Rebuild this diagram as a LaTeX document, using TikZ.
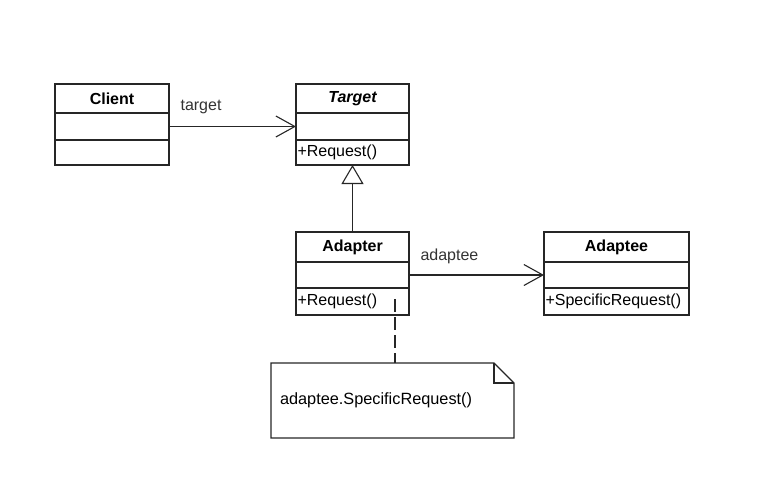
\documentclass[tikz,border=0pt]{standalone}
\usepackage{fontspec}
\setmainfont{Liberation Sans}
\usetikzlibrary{arrows.meta,positioning,calc}

\tikzset{
  classhead/.style={draw=black!85,line width=1.2pt,outer sep=0pt,inner sep=1pt,
    minimum height=29pt,font=\fontsize{16}{18}\selectfont\bfseries},
  compart/.style={draw=black!85,line width=1.2pt,outer sep=0pt,inner xsep=1.5pt,
    inner ysep=0pt,align=left,font=\fontsize{16}{18}\selectfont},
  assoc/.style={draw=black!85,line width=1.1pt,-{Straight Barb[length=19pt,width=21pt,line width=1.1pt]}},
  gen/.style={draw=black!85,line width=1.1pt,-{Triangle[open,length=19pt,width=22pt,line width=1.1pt,fill=white]}},
  rolelabel/.style={font=\fontsize{16}{18}\selectfont,text=black!80,inner sep=0pt},
  notebox/.style={inner xsep=9pt,text width=225pt,align=left,minimum height=75pt,
    font=\fontsize{16.3}{18}\selectfont,outer sep=0pt}
}

\begin{document}
\begin{tikzpicture}[x=1pt,y=-1pt]
  \useasboundingbox (0,0) rectangle (758,496);

  % Client
  \node[classhead,minimum width=114pt] (client) at (112,98.5) {Client};
  \node[compart,text width=111pt,minimum height=27pt,below=0pt of client] (client-attr) {};
  \node[compart,text width=111pt,minimum height=25pt,below=0pt of client-attr] (client-ops) {};

  % Target
  \node[classhead,minimum width=113pt,font=\fontsize{16}{18}\selectfont\bfseries\itshape]
    (target) at (352.5,98.5) {Target};
  \node[compart,text width=110pt,minimum height=27pt,below=0pt of target] (target-attr) {};
  \node[compart,text width=110pt,minimum height=25pt,below=0pt of target-attr] (target-ops) {+Request()};

  % Adapter
  \node[classhead,minimum width=113pt,minimum height=30pt] (adapter) at (352.5,247) {Adapter};
  \node[compart,text width=110pt,minimum height=26pt,below=0pt of adapter] (adapter-attr) {};
  \node[compart,text width=110pt,minimum height=27pt,below=0pt of adapter-attr] (adapter-ops) {+Request()};

  % Adaptee
  \node[classhead,minimum width=145pt,minimum height=30pt] (adaptee) at (616.5,247) {Adaptee};
  \node[compart,text width=142pt,minimum height=26pt,below=0pt of adaptee] (adaptee-attr) {};
  \node[compart,text width=142pt,minimum height=27pt,below=0pt of adaptee-attr] (adaptee-ops) {+SpecificRequest()};

  % relations
  \draw[assoc] (client-attr.east) -- (target-attr.west)
    node[rolelabel,pos=0,anchor=south west,xshift=11pt,yshift=12pt] {target};
  \draw[gen] (adapter.north) -- (target-ops.south);
  \draw[assoc] (adapter-attr.east) -- (adaptee-attr.west)
    node[rolelabel,pos=0,anchor=south west,xshift=11pt,yshift=11pt] {adaptee};

  % note
  \node[notebox] (note) at (392.5,400.5) {adaptee.SpecificRequest()};
  \draw[black!85,line width=1.2pt] (note.north west) -- ($(note.north east)+(-20pt,0pt)$)
    -- ($(note.north east)+(0pt,-20pt)$) -- (note.south east) -- (note.south west) -- cycle;
  \draw[black!85,line width=1.2pt] ($(note.north east)+(-20pt,0pt)$) |- ($(note.north east)+(0pt,-20pt)$);

  \coordinate (adapter-hook) at (395,299);
  \draw[black!85,line width=1.1pt,dash pattern=on 13pt off 5pt] (adapter-hook) -- (adapter-hook |- note.north);
\end{tikzpicture}
\end{document}
